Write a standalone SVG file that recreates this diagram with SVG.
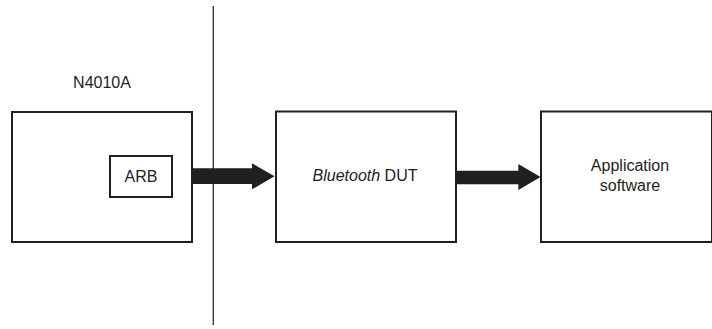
<svg xmlns="http://www.w3.org/2000/svg" width="712" height="329" viewBox="0 0 712 329">
<style>
.box{fill:#fff;stroke:#231f20;stroke-width:2}
.t{font-family:"Liberation Sans",Arial,sans-serif;font-size:16px;fill:#231f20;text-anchor:middle}
.arr{fill:#231f20}
</style>
<rect width="712" height="329" fill="#fff"/>
<g id="divider"><line x1="213.3" y1="6" x2="213.3" y2="325" stroke="#3a3a3a" stroke-width="1.4"/></g>
<g id="n4010a">
<rect class="box" x="12" y="112" width="180" height="130"/>
<text class="t" x="102" y="88">N4010A</text>
</g>
<g id="arb">
<rect class="box" x="110" y="156" width="62" height="41" stroke-width="1.6"/>
<text class="t" x="141" y="182">ARB</text>
</g>
<g id="dut">
<rect class="box" x="276" y="111.5" width="180" height="130.5"/>
<text class="t" x="365" y="181"><tspan font-style="italic">Bluetooth</tspan> DUT</text>
</g>
<g id="app">
<rect class="box" x="541" y="111.5" width="171" height="130.5"/>
<text class="t" x="630" y="171">Application</text>
<text class="t" x="630" y="191">software</text>
</g>
<g id="connectors">
<polygon class="arr" points="193,168.3 252,168.3 252,163.3 274.5,176.2 252,189.3 252,184 193,184"/>
<polygon class="arr" points="457,170.7 518.3,170.7 518.3,164 540.5,177 518.3,190 518.3,184.3 457,184.3"/>
</g>
</svg>
